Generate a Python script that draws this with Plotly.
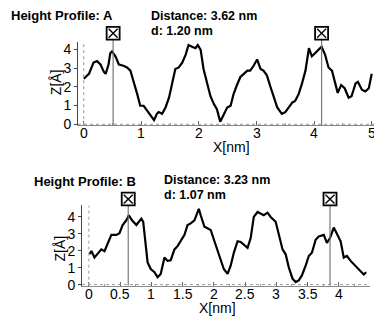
import plotly.graph_objects as go

W, H = 374, 320

# Profile A
xa = [0.00, 0.09, 0.17, 0.23, 0.29, 0.35, 0.38, 0.43, 0.46, 0.49, 0.55, 0.61, 0.69, 0.75, 0.81, 0.87,
      0.93, 0.98, 1.04, 1.10, 1.16, 1.22, 1.27, 1.30, 1.36, 1.42, 1.48, 1.53, 1.59, 1.65, 1.71, 1.77,
      1.82, 1.88, 1.94, 1.98, 2.03, 2.08, 2.14, 2.20, 2.26, 2.31, 2.37, 2.43, 2.49, 2.55, 2.60, 2.66,
      2.72, 2.78, 2.84, 2.89, 2.95, 3.01, 3.07, 3.12, 3.18, 3.24, 3.30, 3.36, 3.44, 3.50, 3.56, 3.62,
      3.67, 3.73, 3.79, 3.85, 3.91, 3.96, 4.02, 4.08, 4.13, 4.19, 4.25, 4.31, 4.37, 4.41, 4.47, 4.53,
      4.60, 4.65, 4.72, 4.76, 4.83, 4.89, 4.95, 5.00]
za = [2.44, 2.70, 3.30, 3.38, 3.20, 2.80, 2.70, 3.20, 3.80, 3.90, 3.64, 3.20, 3.13, 3.04, 2.87, 2.27,
      1.60, 1.00, 0.99, 0.73, 0.48, 0.22, 0.56, 0.65, 0.56, 0.90, 1.42, 2.10, 2.96, 3.04, 3.30, 3.73,
      4.24, 4.15, 4.07, 4.24, 3.98, 2.96, 2.27, 1.50, 1.08, 0.82, 0.14, 0.56, 0.90, 0.99, 1.60, 2.10,
      2.53, 2.70, 2.87, 2.87, 3.13, 3.47, 2.96, 2.87, 2.62, 2.02, 1.42, 0.90, 0.56, 0.65, 0.90, 1.16,
      1.25, 1.60, 2.19, 2.87, 4.07, 3.64, 3.81, 3.98, 4.15, 3.73, 3.04, 2.87, 2.10, 1.68, 2.10, 1.93,
      1.42, 1.50, 2.19, 2.27, 1.85, 1.76, 1.93, 2.70]
markers_a = [0.51, 4.13]

# Profile B
xb = [0.01, 0.04, 0.09, 0.14, 0.20, 0.25, 0.30, 0.36, 0.44, 0.49, 0.54, 0.60, 0.64, 0.69, 0.76, 0.84,
      0.87, 0.91, 0.94, 0.99, 1.05, 1.10, 1.15, 1.21, 1.26, 1.31, 1.37, 1.42, 1.47, 1.53, 1.58, 1.63,
      1.69, 1.76, 1.79, 1.85, 1.90, 1.95, 2.01, 2.06, 2.11, 2.16, 2.22, 2.27, 2.32, 2.38, 2.43, 2.48,
      2.54, 2.59, 2.64, 2.70, 2.75, 2.80, 2.86, 2.91, 2.99, 3.04, 3.10, 3.15, 3.20, 3.26, 3.31, 3.36,
      3.41, 3.47, 3.52, 3.57, 3.63, 3.68, 3.76, 3.81, 3.86, 3.92, 3.97, 4.03, 4.08, 4.13, 4.19, 4.24,
      4.29, 4.35, 4.40, 4.44]
zb = [1.79, 1.98, 1.60, 1.79, 2.08, 1.98, 2.46, 2.94, 2.94, 3.04, 3.52, 3.80, 4.10, 3.80, 3.52, 3.90,
      3.71, 2.37, 1.31, 0.92, 0.73, 0.44, 0.63, 1.60, 1.40, 1.44, 2.08, 2.27, 2.56, 2.94, 3.52, 3.62,
      3.80, 4.48, 4.10, 3.42, 3.33, 3.23, 2.56, 1.98, 1.40, 0.92, 0.63, 1.12, 1.88, 2.56, 2.52, 2.37,
      2.17, 2.75, 4.00, 4.29, 4.19, 4.10, 4.25, 4.00, 3.71, 3.04, 2.08, 1.79, 1.02, 0.35, 0.15, 0.25,
      0.54, 1.12, 1.69, 1.88, 2.65, 2.85, 2.94, 2.46, 2.75, 3.37, 3.04, 2.56, 1.60, 1.69, 1.40, 1.21,
      1.02, 0.73, 0.60, 0.73]
markers_b = [0.63, 3.86]

ticks_a = [0, 1, 2, 3, 4, 5]
ticks_b = [0, 0.5, 1, 1.5, 2, 2.5, 3, 3.5, 4]
ticks_z = [0, 1, 2, 3, 4]

FONT = "Liberation Sans, Arial, sans-serif"


def px(x):
    return x / W


def py(y):
    return 1 - y / H


fig = go.Figure()

# panel geometry (pixels): plot box, data ranges, marker-box centre, tick-label row
A = dict(x0=78, x1=374, y0=43, y1=128, xr=[-0.1, 5.04], yr=[-0.05, 4.4],
         box_c=34, box_h=13, lab_y=136)
B = dict(x0=82, x1=370, y0=210, y1=292, xr=[-0.11, 4.5], yr=[-0.06, 4.68],
         box_c=203.5, box_h=13, lab_y=301)

for i, (P, xs, zs, mk, ticks) in enumerate([(A, xa, za, markers_a, ticks_a),
                                            (B, xb, zb, markers_b, ticks_b)]):
    xax = "x" if i == 0 else "x2"
    yax = "y" if i == 0 else "y2"
    # dotted zero lines
    fig.add_shape(type="line", xref=xax, yref=yax, x0=0, x1=0, y0=P["yr"][0], y1=P["yr"][1],
                  line=dict(color="#999999", width=1, dash="dot"))
    fig.add_shape(type="line", xref=xax, yref=yax, x0=P["xr"][0], x1=P["xr"][1], y0=0, y1=0,
                  line=dict(color="#999999", width=1, dash="dot"))
    fig.add_trace(go.Scatter(x=xs, y=zs, mode="lines", line=dict(color="black", width=2.2),
                             xaxis=xax, yaxis=yax, showlegend=False))
    half = P["box_h"] / 2
    btop, bbot = P["box_c"] - half, P["box_c"] + half
    for m in mk:
        # cursor line
        fig.add_shape(type="line", xref=xax, yref="paper", x0=m, x1=m,
                      y0=py(P["y1"]), y1=py(bbot), line=dict(color="#777777", width=1.2))
        # cursor box with cross
        fig.add_shape(type="rect", xref=xax, xsizemode="pixel", xanchor=m, x0=-half, x1=half,
                      yref="paper", y0=py(bbot), y1=py(btop),
                      line=dict(color="black", width=1.8), fillcolor="white")
        for (a0, a1) in [(py(bbot), py(btop)), (py(btop), py(bbot))]:
            fig.add_shape(type="line", xref=xax, xsizemode="pixel", xanchor=m,
                          x0=-half + 2, x1=half - 2, yref="paper",
                          y0=a0 + (2 / H if a0 < a1 else -2 / H),
                          y1=a1 + (-2 / H if a0 < a1 else 2 / H),
                          line=dict(color="black", width=1.4))
    # x tick labels placed close to the axis
    for t in ticks:
        fig.add_annotation(text=f"{t:g}", x=t, y=py(P["lab_y"]), xref=xax, yref="paper",
                           xanchor="center", yanchor="middle", showarrow=False,
                           font=dict(family=FONT, size=14, color="black"))
    xkey = "xaxis" if i == 0 else "xaxis2"
    ykey = "yaxis" if i == 0 else "yaxis2"
    fig.update_layout(**{
        xkey: dict(domain=[px(P["x0"]), px(P["x1"])], range=P["xr"], anchor=yax,
                   tickvals=ticks, showticklabels=False,
                   showgrid=False, zeroline=False, showline=True, linecolor="#888888", linewidth=1,
                   ticks="inside", ticklen=4, tickcolor="#666666",
                   minor=dict(ticks="inside", ticklen=2, tickcolor="#999999",
                              dtick=(0.5 if i == 0 else 0.25))),
        ykey: dict(domain=[py(P["y1"]), py(P["y0"])], range=P["yr"], anchor=xax,
                   tickvals=ticks_z, showgrid=False, zeroline=False, showline=True,
                   linecolor="#444444", linewidth=1, ticks="outside", ticklen=3, tickcolor="#444444",
                   tickfont=dict(family=FONT, size=14, color="black")),
    })


def ann(text, x, y, size, bold=False, anchor="left", angle=0):
    fig.add_annotation(text=f"<b>{text}</b>" if bold else text, x=px(x), y=py(y),
                       xref="paper", yref="paper", xanchor=anchor, yanchor="middle",
                       showarrow=False, textangle=angle,
                       font=dict(family=FONT, size=size, color="black"))


ann("Height Profile: A", 9, 16, 13, bold=True)
ann("Distance: 3.62 nm", 149, 16, 12.5, bold=True)
ann("d: 1.20 nm", 149, 32, 12.5, bold=True)
ann("X[nm]", 231, 150, 14, anchor="center")
ann("Z[Å]", 56, 84, 14, anchor="center", angle=-90)

ann("Height Profile: B", 32, 186, 13, bold=True)
ann("Distance: 3.23 nm", 162, 184, 12.5, bold=True)
ann("d: 1.07 nm", 162, 199, 12.5, bold=True)
ann("X[nm]", 217, 315, 14, anchor="center")
ann("Z[Å]", 60, 254, 14, anchor="center", angle=-90)

fig.update_layout(width=W, height=H, margin=dict(l=0, r=0, t=0, b=0),
                  paper_bgcolor="white", plot_bgcolor="white")

fig.write_html("out.html", config={"displayModeBar": False},
               post_script="document.body.style.margin='0';document.body.style.overflow='hidden';")
